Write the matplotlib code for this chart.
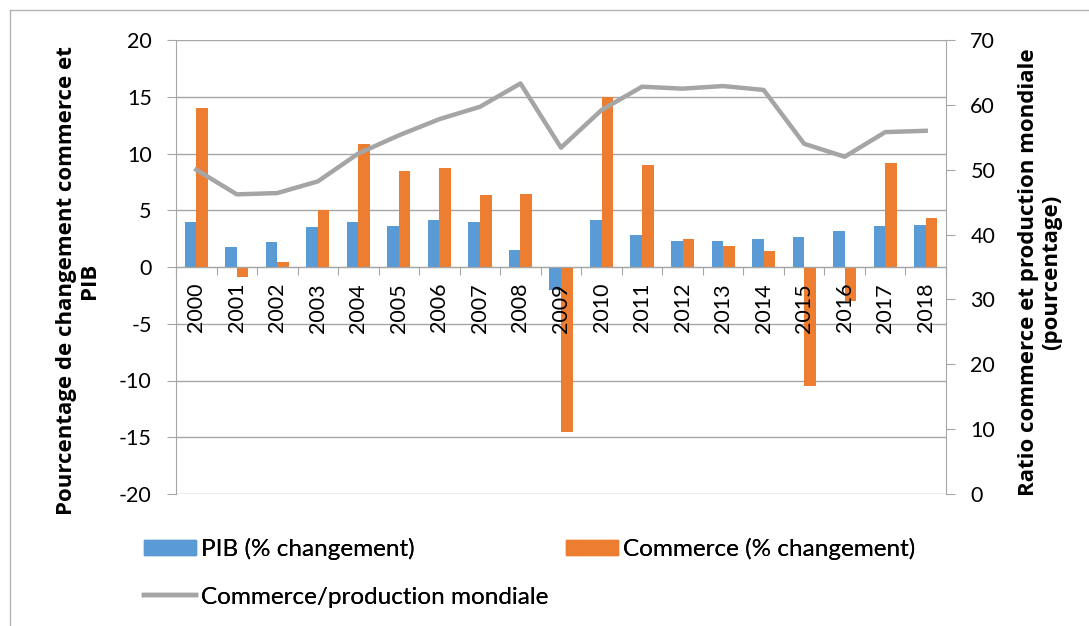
import matplotlib
matplotlib.use("Agg")
import matplotlib.pyplot as plt
from matplotlib.patches import Patch
from matplotlib.lines import Line2D
import numpy as np

plt.rcParams['font.family'] = ['Lato', 'DejaVu Sans']

years = [str(y) for y in range(2000, 2019)]
pib = [4.0, 1.8, 2.2, 3.5, 4.0, 3.6, 4.1, 3.95, 1.5, -2.0, 4.1, 2.8, 2.25, 2.3, 2.5, 2.6, 3.2, 3.6, 3.7]
commerce = [14.0, -0.85, 0.4, 5.0, 10.8, 8.5, 8.7, 6.3, 6.4, -14.5, 15.0, 9.0, 2.5, 1.85, 1.45, -10.5, -3.0, 9.2, 4.3]
ratio = [50.0, 46.2, 46.4, 48.2, 52.5, 55.3, 57.8, 59.7, 63.3, 53.4, 59.2, 62.8, 62.5, 62.9, 62.3, 54.0, 52.0, 55.8, 56.0]

left_ticks = list(range(-20, 21, 5))
right_ticks = list(range(0, 71, 10))

BLUE = '#5b9bd5'
ORANGE = '#ed7d31'
GRAY = '#a5a5a5'
AXC = '#a6a6a6'
FS = 15.5

W, H = 1089, 626
fig = plt.figure(figsize=(W / 100, H / 100), dpi=100)
ax = fig.add_axes([176 / W, 1 - 494 / H, (946 - 176) / W, (494 - 40) / H])

x = np.arange(len(years))
bw = 0.2857
ax.bar(x - bw / 2, pib, width=bw, color=BLUE, zorder=2)
ax.bar(x + bw / 2, commerce, width=bw, color=ORANGE, zorder=2)

ax.set_xlim(-0.5, len(years) - 0.5)
ax.set_ylim(-20, 20)
ax.set_yticks(left_ticks)
ax.set_yticklabels([str(t) for t in left_ticks], fontsize=FS)
ax.yaxis.grid(True, color=AXC, lw=1.0)
ax.set_axisbelow(True)
ax.tick_params(axis='y', direction='out', length=6.5, color=AXC, pad=11)

ax.spines['bottom'].set_position(('data', 0))
ax.spines['bottom'].set_color(AXC)
ax.spines['top'].set_visible(False)
ax.spines['right'].set_visible(False)
ax.spines['left'].set_color(AXC)
ax.set_xticks(np.arange(-0.5, len(years), 1.0))
ax.set_xticklabels([])
ax.tick_params(axis='x', direction='out', length=6, color=AXC)
for i, yr in enumerate(years):
    ax.annotate(yr, xy=(i, 0), xytext=(0, -11.5), textcoords='offset points',
                rotation=90, ha='center', va='top', fontsize=FS)

ax2 = ax.twinx()
ax2.plot(x, ratio, color=GRAY, lw=3.2, solid_joinstyle='round', zorder=3)
ax2.set_ylim(0, 70)
ax2.set_yticks(right_ticks)
ax2.set_yticklabels([str(t) for t in right_ticks], fontsize=FS)
ax2.tick_params(axis='y', direction='out', length=6.5, color=AXC, pad=11)
for s in ['top', 'left', 'bottom']:
    ax2.spines[s].set_visible(False)
ax2.spines['right'].set_color(AXC)

lab_family = ['Open Sans', 'DejaVu Sans']
fig.text(78 / W, 1 - 281 / H, 'Pourcentage de changement commerce et\nPIB',
         rotation=90, ha='center', va='center', multialignment='center',
         fontsize=16, fontweight='bold', family=lab_family, linespacing=1.1)
fig.text(1040 / W, 1 - 272 / H, 'Ratio commerce et production mondiale\n(pourcentage)',
         rotation=90, ha='center', va='center', multialignment='center',
         fontsize=16, fontweight='bold', family=lab_family, linespacing=1.1)


def add_leg(handle, label, xpix, ypix):
    lg = fig.legend([handle], [label], loc='center left',
                    bbox_to_anchor=(xpix / W, 1 - ypix / H), frameon=False,
                    prop={'family': ['Lato', 'DejaVu Sans'], 'size': 17.5},
                    handlelength=2.15, handleheight=0.58,
                    handletextpad=0.2, borderpad=0, borderaxespad=0)
    fig.add_artist(lg)


add_leg(Patch(color=BLUE), 'PIB (% changement)', 144, 549)
add_leg(Patch(color=ORANGE), 'Commerce (% changement)', 566, 549)
add_leg(Line2D([0], [0], color=GRAY, lw=3.2), 'Commerce/production mondiale', 144, 597)

fig.add_artist(Line2D([10 / W, 10 / W], [0, 1 - 10 / H], transform=fig.transFigure, color='#b4b4b4', lw=1))
fig.add_artist(Line2D([10 / W, 1], [1 - 10 / H, 1 - 10 / H], transform=fig.transFigure, color='#b4b4b4', lw=1))

fig.savefig('out.png', dpi=100, facecolor='white')
